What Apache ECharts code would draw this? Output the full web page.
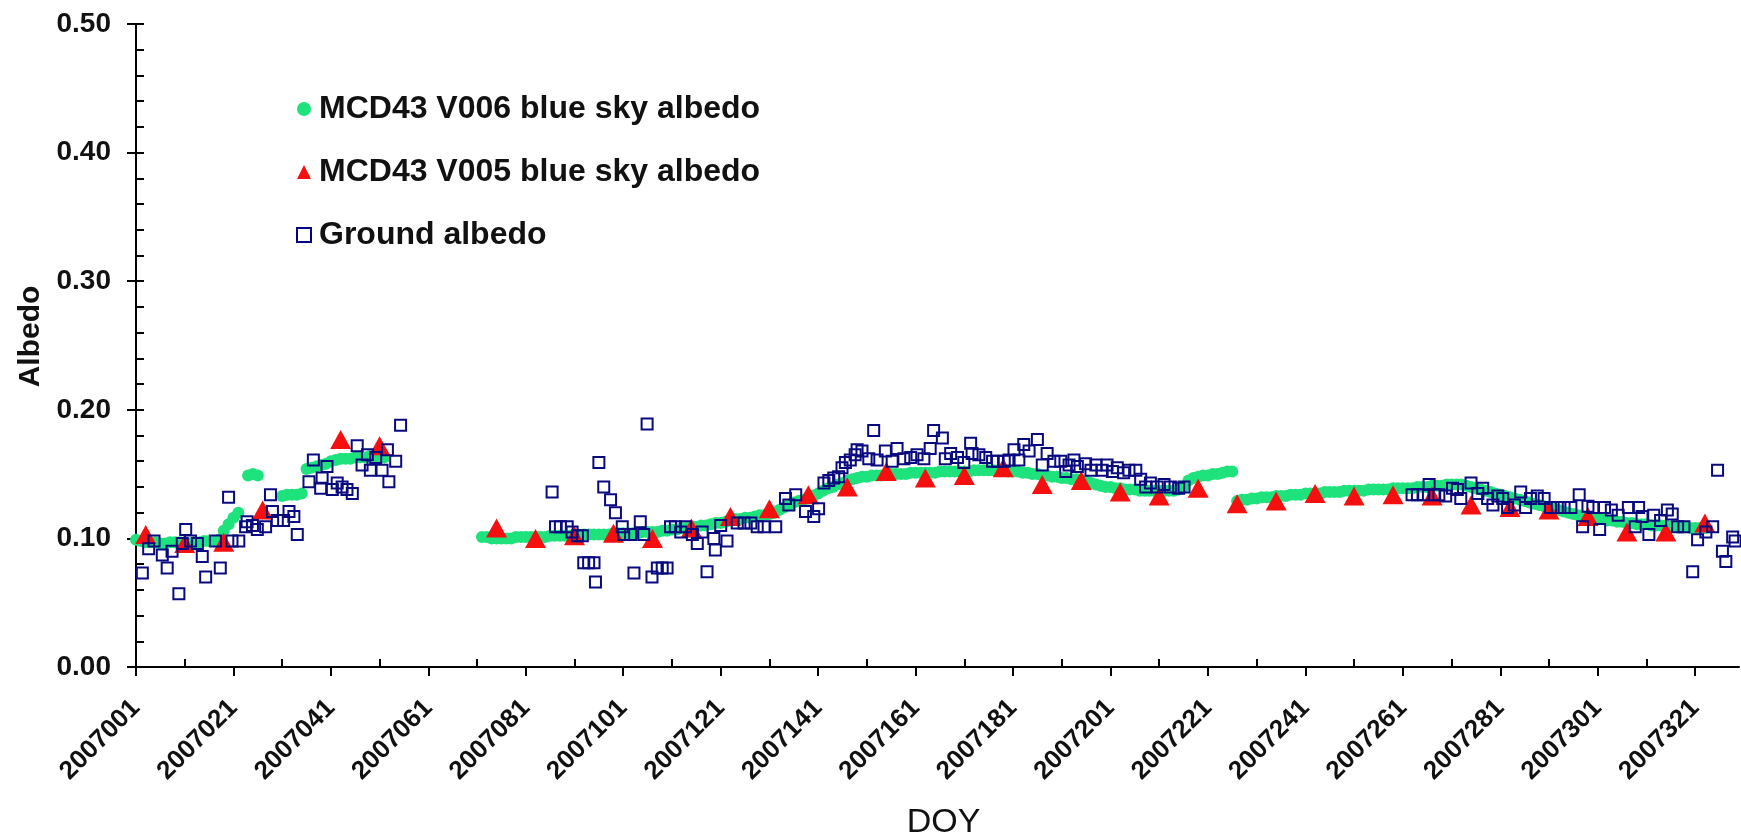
<!DOCTYPE html>
<html>
<head>
<meta charset="utf-8">
<script src="https://cdn.jsdelivr.net/npm/echarts@6/dist/echarts.min.js"></script>
<style>
html,body{margin:0;padding:0;background:#ffffff;}
#chart{width:1741px;height:838px;}
</style>
</head>
<body>
<div id="chart"></div>
<script>
// ---------------- DATA ----------------
const yearPrefix = '2007';
const seriesNames = ['MCD43 V006 blue sky albedo', 'MCD43 V005 blue sky albedo', 'Ground albedo'];

// x-axis tick positions (DOY)
const xMajorTickDays = [1,21,41,61,81,101,121,141,161,181,201,221,241,261,281,301,321];
const xMinorTickDays = [11,31,51,71,91,111,131,151,171,191,211,231,251,271,291,311];
const xMaxDay = 330;
const yMax = 0.5, yMajorStep = 0.1, yMinorStep = 0.02;

// MCD43 V006 (daily) – first season, explicit days
const v006DaysA = [1,2,3,4,5,6,7,8,9,10,11,12,13,14,15,16,17,18,19,20,21,22,24,25,26,31,32,33,34,35,36,37,38,39,40,41,42,43,44,45,46,47,48,49,50,51,52];
const v006ValsA = [0.099,0.098,0.097,0.097,0.097,0.096,0.096,0.097,0.097,0.097,0.096,0.096,0.097,0.097,0.098,0.098,0.098,0.099,0.106,0.111,0.116,0.120,0.149,0.150,0.149,0.133,0.134,0.134,0.134,0.135,0.154,0.155,0.156,0.157,0.158,0.160,0.161,0.162,0.162,0.162,0.163,0.163,0.163,0.164,0.164,0.163,0.163];
// MCD43 V006 (daily) – continuous record starting at DOY 72
const v006StartB = 72;
const v006ValsB = [
  0.101,0.101,0.100,0.100,0.100,0.100,0.100,0.101,0.101,0.101,
  0.101,0.101,0.101,0.101,0.102,0.102,0.102,0.102,0.102,0.102,
  0.102,0.103,0.103,0.103,0.103,0.103,0.103,0.104,0.104,0.104,
  0.104,0.104,0.104,0.105,0.105,0.105,0.105,0.106,0.106,0.107,
  0.107,0.108,0.108,0.109,0.109,0.110,0.110,0.111,0.112,0.112,
  0.113,0.114,0.115,0.115,0.116,0.116,0.117,0.118,0.118,0.119,
  0.120,0.122,0.124,0.126,0.128,0.129,0.130,0.131,0.133,0.135,
  0.137,0.139,0.140,0.142,0.143,0.145,0.146,0.147,0.148,0.148,
  0.149,0.149,0.149,0.150,0.150,0.150,0.150,0.150,0.151,0.151,
  0.151,0.151,0.151,0.151,0.152,0.152,0.152,0.152,0.152,0.152,
  0.152,0.153,0.153,0.153,0.153,0.153,0.153,0.153,0.152,0.152,
  0.152,0.151,0.151,0.150,0.150,0.149,0.149,0.148,0.148,0.147,
  0.147,0.146,0.146,0.145,0.144,0.143,0.142,0.141,0.140,0.140,
  0.139,0.139,0.138,0.138,0.138,0.137,0.137,0.137,0.137,0.137,
  0.137,0.137,0.137,0.138,0.140,0.145,0.147,0.148,0.149,0.149,
  0.150,0.150,0.151,0.152,0.152,0.129,0.130,0.130,0.131,0.131,
  0.132,0.132,0.132,0.133,0.133,0.133,0.134,0.134,0.134,0.135,
  0.135,0.135,0.135,0.136,0.136,0.136,0.136,0.137,0.137,0.137,
  0.137,0.137,0.138,0.138,0.138,0.138,0.138,0.139,0.139,0.139,
  0.139,0.139,0.140,0.140,0.140,0.141,0.141,0.141,0.142,0.142,
  0.142,0.142,0.141,0.140,0.139,0.138,0.137,0.136,0.135,0.134,
  0.133,0.132,0.131,0.130,0.129,0.128,0.127,0.126,0.125,0.124,
  0.123,0.122,0.121,0.120,0.119,0.118,0.117,0.116,0.116,0.115,
  0.115,0.114,0.114,0.113,0.113,0.112,0.112,0.111,0.111,0.111,
  0.110,0.110,0.110,0.110,0.109,0.109,0.109,0.109,0.108,0.108,
  0.108,0.108
];

// MCD43 V005 (8-day)
const v005Days = [3,11,19,27,43,51,75,83,91,99,107,115,123,131,139,147,155,163,171,179,187,195,203,211,219,227,235,243,251,259,267,275,283,291,299,307,315,323];
const v005Vals = [0.103,0.096,0.097,0.122,0.177,0.172,0.108,0.100,0.102,0.104,0.100,0.108,0.117,0.123,0.134,0.140,0.152,0.147,0.149,0.155,0.142,0.145,0.136,0.133,0.139,0.127,0.129,0.135,0.133,0.134,0.133,0.126,0.124,0.122,0.117,0.105,0.105,0.112];

// Ground albedo
const groundDays = [
  2.3,3.6,4.7,6.4,7.4,8.4,9.8,10.5,11.2,12.2,13.6,14.6,15.3,17.3,18.3,20.0,20.7,22.1,23.5,23.8,
  24.9,25.9,27.6,28.6,29.0,30.0,31.3,32.4,33.4,34.1,36.5,37.4,38.9,39.2,40.2,41.3,42.3,43.3,44.3,45.4,
  46.4,47.4,48.5,49.1,50.2,51.5,52.6,52.9,54.3,55.3,
  86.4,87.1,88.1,89.5,90.5,91.6,92.6,92.9,93.9,95.0,95.3,96.0,97.0,98.4,99.4,100.8,101.1,102.5,103.2,104.5,
  105.2,105.9,106.9,108.0,109.0,110.0,110.7,111.7,112.8,113.8,115.2,116.2,117.2,118.2,119.6,119.9,121.0,122.3,124.4,125.8,
  127.2,128.5,129.9,
  132.3,134.3,135.0,136.4,138.4,140.1,141.1,142.2,143.2,144.2,145.2,145.9,146.6,147.6,148.6,149.0,150.0,151.4,152.4,153.1,
  154.8,156.2,157.2,158.6,160.0,161.3,162.7,164.0,164.7,166.5,167.1,168.2,169.6,170.9,172.3,172.6,174.0,175.4,176.8,177.8,
  179.2,180.2,181.2,182.2,183.2,184.3,186.0,187.0,188.0,189.4,190.8,191.8,192.5,
  193.5,194.2,195.9,197.0,198.0,199.3,200.3,201.4,202.4,203.7,204.8,206.2,207.2,208.2,209.2,210.6,212.0,213.3,215.0,216.1,
  262.9,264.0,265.3,266.4,267.4,268.4,269.8,271.2,272.2,272.9,275.0,276.4,277.4,278.4,279.5,280.5,281.5,282.5,283.9,285.2,
  286.2,287.2,288.6,290.0,291.3,292.7,294.1,295.5,297.2,297.9,299.0,300.0,301.4,302.4,303.8,305.2,307.3,308.7,309.4,310.1,
  311.5,312.5,313.9,315.3,316.3,317.4,318.7,320.5,321.5,323.2,324.6,325.6,326.6,327.3,328.7,329.2
];
const groundVals = [
  0.073,0.092,0.098,0.087,0.077,0.090,0.057,0.096,0.107,0.098,0.096,0.086,0.070,0.098,0.077,0.132,0.098,0.098,0.109,0.113,
  0.110,0.107,0.109,0.134,0.121,0.114,0.114,0.121,0.117,0.103,0.144,0.161,0.139,0.147,0.156,0.138,0.143,0.140,0.138,0.135,
  0.172,0.157,0.165,0.153,0.163,0.153,0.169,0.144,0.160,0.188,
  0.136,0.109,0.109,0.109,0.105,0.102,0.102,0.081,0.081,0.081,0.066,0.159,0.140,0.130,0.120,0.109,0.103,0.103,0.073,0.113,
  0.103,0.189,0.070,0.077,0.077,0.077,0.109,0.109,0.105,0.109,0.103,0.096,0.105,0.074,0.100,0.091,0.110,0.098,0.112,0.112,
  0.112,0.109,0.109,
  0.109,0.131,0.126,0.134,0.121,0.117,0.123,0.143,0.145,0.147,0.148,0.155,0.159,0.161,0.165,0.169,0.168,0.162,0.184,0.161,
  0.168,0.160,0.170,0.162,0.163,0.165,0.162,0.170,0.184,0.178,0.162,0.166,0.163,0.159,0.174,0.166,0.165,0.163,0.160,0.160,
  0.160,0.161,0.169,0.161,0.173,0.168,0.177,0.157,0.166,0.160,0.160,0.152,0.157,
  0.161,0.156,0.158,0.153,0.157,0.153,0.157,0.152,0.155,0.151,0.153,0.153,0.146,0.140,0.143,0.140,0.142,0.140,0.139,0.140,
  0.134,0.134,0.134,0.142,0.134,0.134,0.133,0.139,0.138,0.131,0.143,0.135,0.139,0.131,0.126,0.133,0.131,0.124,0.126,0.136,
  0.124,0.131,0.133,0.131,0.124,0.124,0.124,0.124,0.134,0.109,0.125,0.124,0.107,0.124,0.122,0.118,0.124,0.109,0.124,0.117,
  0.103,0.118,0.114,0.122,0.119,0.109,0.109,0.074,0.099,0.105,0.109,0.153,0.090,0.082,0.101,0.098
];

// ---------------- BUILD ----------------
// x values are DOY-1 so that the axis starts at DOY 1
const toX = d => d - 1;
const pts006 = v006DaysA.map((d, i) => [toX(d), v006ValsA[i]])
  .concat(v006ValsB.map((v, i) => [toX(v006StartB + i), v]));
const pts005 = v005Days.map((d, i) => [toX(d), v005Vals[i]]);
const ptsGround = groundDays.map((d, i) => [toX(d), groundVals[i]]);
const xMajor = xMajorTickDays.map(toX);
const xMinor = xMinorTickDays.map(toX);

const FONT = "'Liberation Sans', Arial, Helvetica, sans-serif";
const black = '#000000';

const chart = echarts.init(document.getElementById('chart'), null, {renderer: 'canvas'});
chart.setOption({
  backgroundColor: '#ffffff',
  animation: false,
  grid: {left: 136, right: 2, top: 24, bottom: 171, containLabel: false, outerBoundsMode: 'none'},
  legend: {
    orient: 'vertical',
    left: 291, top: 88,
    itemWidth: 14, itemHeight: 14, itemGap: 31,
    selectedMode: false,
    textStyle: {fontFamily: FONT, fontWeight: 'bold', fontSize: 32, color: '#111111', padding: [0, 0, 0, 3]},
    data: [
      {name: seriesNames[0], icon: 'circle'},
      {name: seriesNames[1], icon: 'triangle'},
      {name: seriesNames[2], icon: 'rect', itemStyle: {color: '#ffffff', borderColor: '#000080', borderWidth: 2}}
    ]
  },
  xAxis: [
    {
      type: 'value', min: 0, max: toX(xMaxDay),
      position: 'bottom',
      name: 'DOY', nameLocation: 'middle', nameGap: 139,
      nameTextStyle: {fontFamily: FONT, fontSize: 34, color: '#111111', padding: [0, 0, 0, 12]},
      axisLine: {show: true, onZero: false, lineStyle: {color: black, width: 2}},
      axisTick: {show: true, inside: false, length: 9, customValues: xMajor, lineStyle: {color: black, width: 2}},
      axisLabel: {
        show: true, rotate: 45, margin: 37, customValues: xMajor,
        fontFamily: FONT, fontWeight: 'bold', fontSize: 26, color: '#111111',
        formatter: v => yearPrefix + String(Math.round(v) + 1).padStart(3, '0')
      },
      splitLine: {show: false}
    },
    {
      type: 'value', min: 0, max: toX(xMaxDay),
      position: 'bottom',
      axisLine: {show: false},
      axisTick: {show: true, inside: true, length: 8, customValues: xMinor, lineStyle: {color: black, width: 2}},
      axisLabel: {show: false},
      splitLine: {show: false}
    }
  ],
  yAxis: [
    {
      type: 'value', min: 0, max: yMax, interval: yMajorStep,
      position: 'left',
      name: 'Albedo', nameLocation: 'middle', nameGap: 90,
      nameTextStyle: {fontFamily: FONT, fontWeight: 'bold', fontSize: 30, color: '#111111', padding: [0, 0, 0, 18]},
      axisLine: {show: true, onZero: false, lineStyle: {color: black, width: 2}},
      axisTick: {show: true, inside: false, length: 9, lineStyle: {color: black, width: 2}},
      axisLabel: {
        show: true, margin: 25,
        fontFamily: FONT, fontWeight: 'bold', fontSize: 28, color: '#111111',
        formatter: v => v.toFixed(2)
      },
      splitLine: {show: false}
    },
    {
      type: 'value', min: 0, max: yMax, interval: yMinorStep,
      position: 'left',
      axisLine: {show: false},
      axisTick: {show: true, inside: true, length: 8, lineStyle: {color: black, width: 2}},
      axisLabel: {show: false},
      splitLine: {show: false}
    }
  ],
  series: [
    {
      name: seriesNames[0], type: 'scatter', xAxisIndex: 0, yAxisIndex: 0,
      symbol: 'circle', symbolSize: 12,
      itemStyle: {color: '#1ee27c', opacity: 1},
      data: pts006, z: 2
    },
    {
      name: seriesNames[1], type: 'scatter', xAxisIndex: 0, yAxisIndex: 0,
      symbol: 'triangle', symbolSize: [21, 19],
      itemStyle: {color: '#f50f0f', opacity: 1},
      data: pts005, z: 3
    },
    {
      name: seriesNames[2], type: 'scatter', xAxisIndex: 0, yAxisIndex: 0,
      symbol: 'rect', symbolSize: 11,
      itemStyle: {color: 'rgba(255,255,255,0)', borderColor: '#0a0a80', borderWidth: 2, opacity: 1},
      data: ptsGround, z: 4
    }
  ]
});
</script>
</body>
</html>
